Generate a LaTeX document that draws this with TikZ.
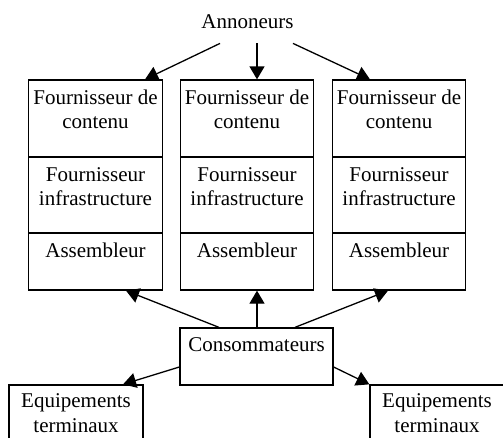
\documentclass[tikz,border=0pt]{standalone}
\usepackage{fontspec}
\setmainfont{Liberation Serif}
\usetikzlibrary{arrows.meta}
% centred stack of lines, one line per argument row
\newcommand{\lines}[1]{\begin{tabular}{@{}c@{}}#1\end{tabular}}
\begin{document}
\begin{tikzpicture}[x=1pt,y=-1pt,
  every node/.style={font=\fontsize{21}{24.5}\selectfont},
  cell/.style={draw,line width=1.3pt,minimum width=133.5pt,inner sep=0pt},
  lbl/.style={anchor=north,inner sep=0pt},
  conn/.style={line width=1.3pt,-{Triangle[length=13pt,width=15pt]}}]
\useasboundingbox (0,0) rectangle (503,437);
\clip (0,0) rectangle (503,437);

% source of the advertising flow
\node[anchor=base,inner ysep=15pt,inner xsep=0pt] (ann) at (247.5,28) {Annoneurs};

% three provider columns, each split into three cells
\foreach \col/\x in {1/95.5,2/247,3/399}{
  \node[cell,minimum height=77pt] (c\col a) at (\x,118.5) {};
  \node[cell,minimum height=76pt] (c\col b) at (\x,195) {};
  \node[cell,minimum height=57pt] (c\col c) at (\x,261.5) {};
}
\foreach \col in {1,2,3}{
  \node[lbl] (t\col a) at ([yshift=-7.35pt]c\col a.north) {\lines{Fournisseur de\\contenu}};
  \node[lbl] (t\col b) at ([yshift=-7.35pt]c\col b.north) {\lines{Fournisseur\\infrastructure}};
  \node[lbl] (t\col c) at ([yshift=-7.35pt]c\col c.north) {\lines{Assembleur}};
}

% consumers
\node[draw,line width=1.3pt,minimum width=153pt,minimum height=57pt,inner sep=0pt] (cons) at (256.5,356.5) {};
\node[lbl] (tcons) at ([yshift=-6.9pt]cons.north) {\lines{Consommateurs}};

% terminal devices
\node[draw,line width=1.3pt,minimum width=134pt,minimum height=60pt,inner sep=0pt] (eq1) at (76,415) {};
\node[draw,line width=1.3pt,minimum width=134pt,minimum height=60pt,inner sep=0pt] (eq2) at (437,415) {};
\node[lbl] (teq1) at ([yshift=-5.9pt]eq1.north) {\lines{Equipements\\terminaux}};
\node[lbl] (teq2) at ([yshift=-5.9pt]eq2.north) {\lines{Equipements\\terminaux}};

% advertisers feed the providers
\draw[conn] ([xshift=-27.5pt]ann.south) -- ([xshift=49.5pt]c1a.north);
\draw[conn] ([xshift=9.5pt]ann.south) -- ([xshift=10pt]c2a.north);
\draw[conn] ([xshift=45.5pt]ann.south) -- ([xshift=-29pt]c3a.north);

% consumers reach the assemblers
\draw[conn] ([xshift=-37.5pt]cons.north) -- ([xshift=30.5pt]c1c.south);
\draw[conn] ([xshift=0.5pt]cons.north) -- ([xshift=10pt]c2c.south);
\draw[conn] ([xshift=38.5pt]cons.north) -- ([xshift=-11pt]c3c.south);

% consumers use terminal devices
\draw[conn] ([yshift=-10.5pt]cons.west) -- ([xshift=47pt]eq1.north);
\draw[conn] ([yshift=-10.5pt]cons.east) -- (eq2.north west);
\end{tikzpicture}
\end{document}
